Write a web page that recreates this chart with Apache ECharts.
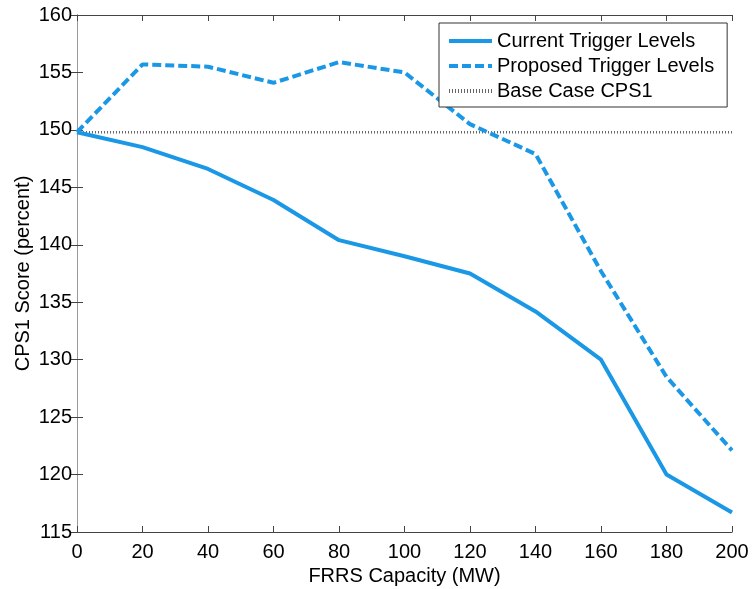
<!DOCTYPE html>
<html>
<head>
<meta charset="utf-8">
<script src="https://cdn.jsdelivr.net/npm/echarts@6/dist/echarts.min.js"></script>
<style>
html, body { margin: 0; padding: 0; background: #fff; }
#main { width: 753px; height: 589px; }
</style>
</head>
<body>
<div id="main"></div>
<script>
var capacity = [0, 20, 40, 60, 80, 100, 120, 140, 160, 180, 200];
var currentLevels = [149.8, 148.5, 146.6, 143.9, 140.4, 139.0, 137.5, 134.2, 130.0, 120.0, 116.7];
var proposedLevels = [149.8, 155.7, 155.5, 154.1, 155.9, 155.0, 150.5, 147.9, 137.7, 128.5, 122.1];
var baseCase = [149.8, 149.8, 149.8, 149.8, 149.8, 149.8, 149.8, 149.8, 149.8, 149.8, 149.8];

function pairs(ys) {
    return capacity.map(function (x, i) { return [x, ys[i]]; });
}

var myChart = echarts.init(document.getElementById('main'));
var blue = '#1a98e6';
var font = 'Arial, "Liberation Sans", sans-serif';

var option = {
    animation: false,
    textStyle: { fontFamily: font },
    grid: { left: 77, right: 21, top: 15, bottom: 57, outerBoundsMode: 'none' },
    legend: {
        orient: 'vertical',
        left: 439,
        top: 23,
        itemWidth: 43,
        itemHeight: 14,
        itemGap: 5,
        padding: [8, 13, 6, 8],
        backgroundColor: '#fff',
        borderColor: '#333',
        borderWidth: 1,
        borderRadius: 0,
        itemStyle: { opacity: 0 },
        lineStyle: { width: 4 },
        textStyle: { fontSize: 20, color: '#000', fontFamily: font },
        data: ['Current Trigger Levels', 'Proposed Trigger Levels', 'Base Case CPS1']
    },
    xAxis: [{
        type: 'value',
        min: 0, max: 200, interval: 20,
        name: 'FRRS Capacity (MW)',
        nameLocation: 'middle',
        nameGap: 26,
        nameTextStyle: { fontSize: 20, color: '#000' },
        axisLine: { lineStyle: { color: '#444' } },
        axisTick: { inside: true, length: 6, lineStyle: { color: '#444' } },
        axisLabel: { fontSize: 20, color: '#000', margin: 10 },
        splitLine: { show: false }
    }, {
        type: 'value', position: 'top',
        min: 0, max: 200, interval: 20,
        axisLine: { show: true, lineStyle: { color: '#444' } },
        axisTick: { show: true, inside: true, length: 6, lineStyle: { color: '#444' } },
        axisLabel: { show: false },
        splitLine: { show: false }
    }],
    yAxis: [{
        type: 'value',
        min: 115, max: 160, interval: 5,
        name: 'CPS1 Score (percent)',
        nameLocation: 'middle',
        nameGap: 44,
        nameMoveOverlap: false,
        nameTextStyle: { fontSize: 20, color: '#000' },
        axisLine: { show: true, lineStyle: { color: '#444' } },
        axisTick: { show: true, inside: true, length: 6, lineStyle: { color: '#444' } },
        axisLabel: { fontSize: 20, color: '#000', margin: 5 },
        splitLine: { show: false }
    }, {
        type: 'value', position: 'right',
        min: 115, max: 160, interval: 5,
        axisLine: { show: true, lineStyle: { color: '#999' } },
        axisTick: { show: true, inside: true, length: 6, lineStyle: { color: '#444' } },
        axisLabel: { show: false },
        splitLine: { show: false }
    }],
    series: [{
        name: 'Current Trigger Levels',
        type: 'line',
        symbol: 'none',
        data: pairs(currentLevels),
        itemStyle: { color: blue },
        lineStyle: { color: blue, width: 4 }
    }, {
        name: 'Proposed Trigger Levels',
        type: 'line',
        symbol: 'none',
        data: pairs(proposedLevels),
        itemStyle: { color: blue },
        lineStyle: { color: blue, width: 4, type: [9, 4] }
    }, {
        name: 'Base Case CPS1',
        type: 'line',
        symbol: 'none',
        data: pairs(baseCase),
        itemStyle: { color: '#666' },
        lineStyle: { color: '#666', width: 2.5, type: [1, 2] },
        z: 1
    }]
};

myChart.setOption(option);
</script>
</body>
</html>
